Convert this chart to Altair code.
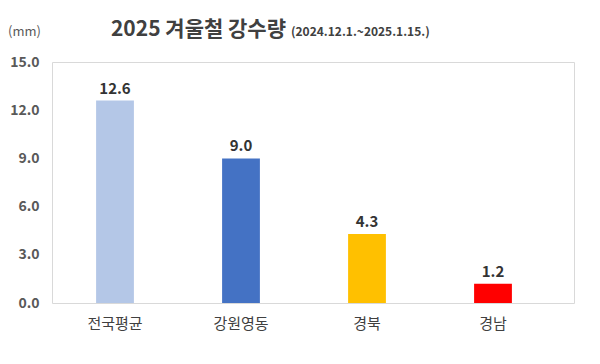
import altair as alt
import pandas as pd

categories = ["전국평균", "강원영동", "경북", "경남"]
values = [12.6, 9.0, 4.3, 1.2]
colors = ["#B4C7E7", "#4472C4", "#FFC000", "#FF0000"]
y_ticks = [0, 3, 6, 9, 12, 15]

df = pd.DataFrame({"cat": categories, "val": values, "color": colors})

FONT = "Noto Sans CJK KR"
W, H = 522, 241

x = alt.X("cat:N", sort=categories, title=None,
          scale=alt.Scale(range=[0, 504], paddingInner=0.7, paddingOuter=0.35),
          axis=alt.Axis(labelAngle=0, labelFont=FONT, labelFontSize=15, labelColor="#404040",
                        labelPadding=13, ticks=False, domain=False))
y = alt.Y("val:Q", title=None,
          scale=alt.Scale(domain=[0, 15], nice=False, zero=True, range=[H, 0]),
          axis=alt.Axis(values=y_ticks, format=".1f", labelFont=FONT, labelFontSize=14,
                        labelFontWeight="bold", labelColor="#595959", labelPadding=13,
                        ticks=False, domain=False, grid=False))

bars = alt.Chart(df).mark_bar().encode(
    x=x, y=y, color=alt.Color("color:N", scale=None)
)

labels = alt.Chart(df).mark_text(
    font=FONT, fontSize=15, fontWeight="bold", color="#333333", baseline="alphabetic", dy=-7
).encode(x=alt.X("cat:N", sort=categories), y=alt.Y("val:Q"), text=alt.Text("val:Q", format=".1f"))

title_main = alt.Chart(pd.DataFrame({"t": ["2025 겨울철 강수량"]})).mark_text(
    font=FONT, fontSize=21, fontWeight="bold", color="#404040", align="right", baseline="middle"
).encode(x=alt.value(234), y=alt.value(-32), text="t:N")

title_sub = alt.Chart(pd.DataFrame({"t": ["(2024.12.1.~2025.1.15.)"]})).mark_text(
    font=FONT, fontSize=12, fontWeight="bold", color="#404040", align="left", baseline="middle"
).encode(x=alt.value(239), y=alt.value(-30), text="t:N")

unit = alt.Chart(pd.DataFrame({"t": ["(mm)"]})).mark_text(
    font=FONT, fontSize=13, color="#595959", align="left", baseline="middle"
).encode(x=alt.value(-44), y=alt.value(-30), text="t:N")

chart = alt.layer(bars, labels, title_main, title_sub, unit).properties(
    width=W, height=H,
    autosize=alt.AutoSizeParams(type="none"),
    padding={"left": 44, "top": 54, "right": 18, "bottom": 53},
    background="white",
).configure_view(stroke="#D9D9D9", strokeWidth=1)

chart.save("out.html", embed_options={"renderer": "svg", "actions": False})
